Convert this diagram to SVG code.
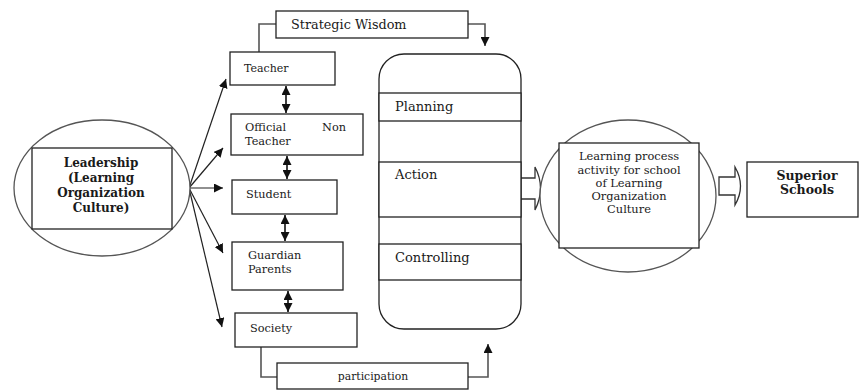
<svg xmlns="http://www.w3.org/2000/svg" width="860" height="391" viewBox="0 0 860 391">
<defs>
<marker id="ah" viewBox="0 0 10 10" refX="10" refY="5" markerWidth="9" markerHeight="9" markerUnits="userSpaceOnUse" orient="auto-start-reverse">
<path d="M0,0 L10,5 L0,10 Z" fill="#111"/>
</marker>
<style>
.box{fill:#fff;stroke:#222;stroke-width:1.3}
.ell{fill:#fff;stroke:#555;stroke-width:1.3}
.t{font-family:"DejaVu Serif","Liberation Serif",serif;fill:#1a1a1a}
.tb{font-family:"DejaVu Serif","Liberation Serif",serif;fill:#1a1a1a;font-weight:bold}
.fan{stroke:#222;stroke-width:1.2;fill:none;marker-end:url(#ah)}
.dbl{stroke:#111;stroke-width:1.6;fill:none;marker-start:url(#ah);marker-end:url(#ah)}
.gl{stroke:#555;stroke-width:1.6;fill:none}
.blk{fill:#fff;stroke:#333;stroke-width:1.3}
</style>
</defs>
<rect width="860" height="391" fill="#fff"/>

<g id="connectors">
<path class="gl" d="M259,53 V24 H276"/>
<path class="gl" d="M468,24 H485 V46" marker-end="url(#ah)"/>
<path class="gl" d="M261,347 V377 H277"/>
<path class="gl" d="M468,377 H488 V344" marker-end="url(#ah)"/>
<path class="fan" d="M189,188 L226,79"/>
<path class="fan" d="M189,188 L223,148"/>
<path class="fan" d="M189,188 L223,188"/>
<path class="fan" d="M189,188 L223,253"/>
<path class="fan" d="M189,188 L222,327"/>
<path class="dbl" d="M286,86 V113"/>
<path class="dbl" d="M287,156 V179"/>
<path class="dbl" d="M285,215 V241"/>
<path class="dbl" d="M288,291 V312"/>
<path class="blk" d="M521,178 H535 V167 Q546,188 535,210 V199 H521"/>
<path class="blk" d="M719,177 H735 V167 Q746,186 735,205 V195 H719 Z"/>
</g>

<g id="leadership">
<ellipse class="ell" cx="102" cy="188" rx="88" ry="68"/>
<rect class="box" x="32" y="148" width="140" height="81"/>
<text class="tb" font-size="12" text-anchor="middle" x="101" y="167">Leadership</text>
<text class="tb" font-size="12" text-anchor="middle" x="101" y="182">(Learning</text>
<text class="tb" font-size="12" text-anchor="middle" x="101" y="197">Organization</text>
<text class="tb" font-size="12" text-anchor="middle" x="101" y="212">Culture)</text>
</g>

<g id="strategic-wisdom">
<rect class="box" x="276" y="11" width="192" height="27"/>
<text class="t" font-size="12.8" x="291" y="29">Strategic Wisdom</text>
</g>

<g id="teacher">
<rect class="box" x="230" y="52" width="105" height="33"/>
<text class="t" font-size="11" x="244" y="72">Teacher</text>
</g>

<g id="official-non-teacher">
<rect class="box" x="231" y="114" width="132" height="41"/>
<text class="t" font-size="11.3" x="245" y="131">Official</text>
<text class="t" font-size="11.3" x="322" y="131">Non</text>
<text class="t" font-size="11.3" x="245" y="145">Teacher</text>
</g>

<g id="student">
<rect class="box" x="232" y="180" width="105" height="34"/>
<text class="t" font-size="11.3" x="246" y="198">Student</text>
</g>

<g id="guardian-parents">
<rect class="box" x="232" y="242" width="111" height="48"/>
<text class="t" font-size="11.3" x="248" y="259">Guardian</text>
<text class="t" font-size="11.3" x="248" y="273">Parents</text>
</g>

<g id="society">
<rect class="box" x="235" y="313" width="122" height="34"/>
<text class="t" font-size="11.3" x="250" y="332">Society</text>
</g>

<g id="participation">
<rect class="box" x="277" y="363" width="191" height="26"/>
<text class="t" font-size="10.8" text-anchor="middle" x="373" y="380">participation</text>
</g>

<g id="process">
<rect class="box" x="379" y="54" width="142" height="275" rx="25" ry="25" stroke="#444"/>
<rect class="box" x="379" y="93" width="142" height="28"/>
<rect class="box" x="379" y="162" width="142" height="55"/>
<rect class="box" x="379" y="244" width="142" height="36"/>
<text class="t" font-size="13" x="395" y="111">Planning</text>
<text class="t" font-size="13" x="395" y="179">Action</text>
<text class="t" font-size="13" x="395" y="262">Controlling</text>
</g>

<g id="learning-process">
<ellipse class="ell" cx="628" cy="196" rx="88" ry="76"/>
<rect class="box" x="559" y="143" width="140" height="105"/>
<text class="t" font-size="11.4" text-anchor="middle" x="629" y="160">Learning process</text>
<text class="t" font-size="11.4" text-anchor="middle" x="629" y="174">activity for school</text>
<text class="t" font-size="11.4" text-anchor="middle" x="629" y="187">of Learning</text>
<text class="t" font-size="11.4" text-anchor="middle" x="629" y="200">Organization</text>
<text class="t" font-size="11.4" text-anchor="middle" x="629" y="213">Culture</text>
</g>

<g id="superior-schools">
<rect class="box" x="747" y="162" width="111" height="55"/>
<text class="tb" font-size="12.5" text-anchor="middle" x="807" y="180">Superior</text>
<text class="tb" font-size="12.5" text-anchor="middle" x="807" y="194">Schools</text>
</g>
</svg>
